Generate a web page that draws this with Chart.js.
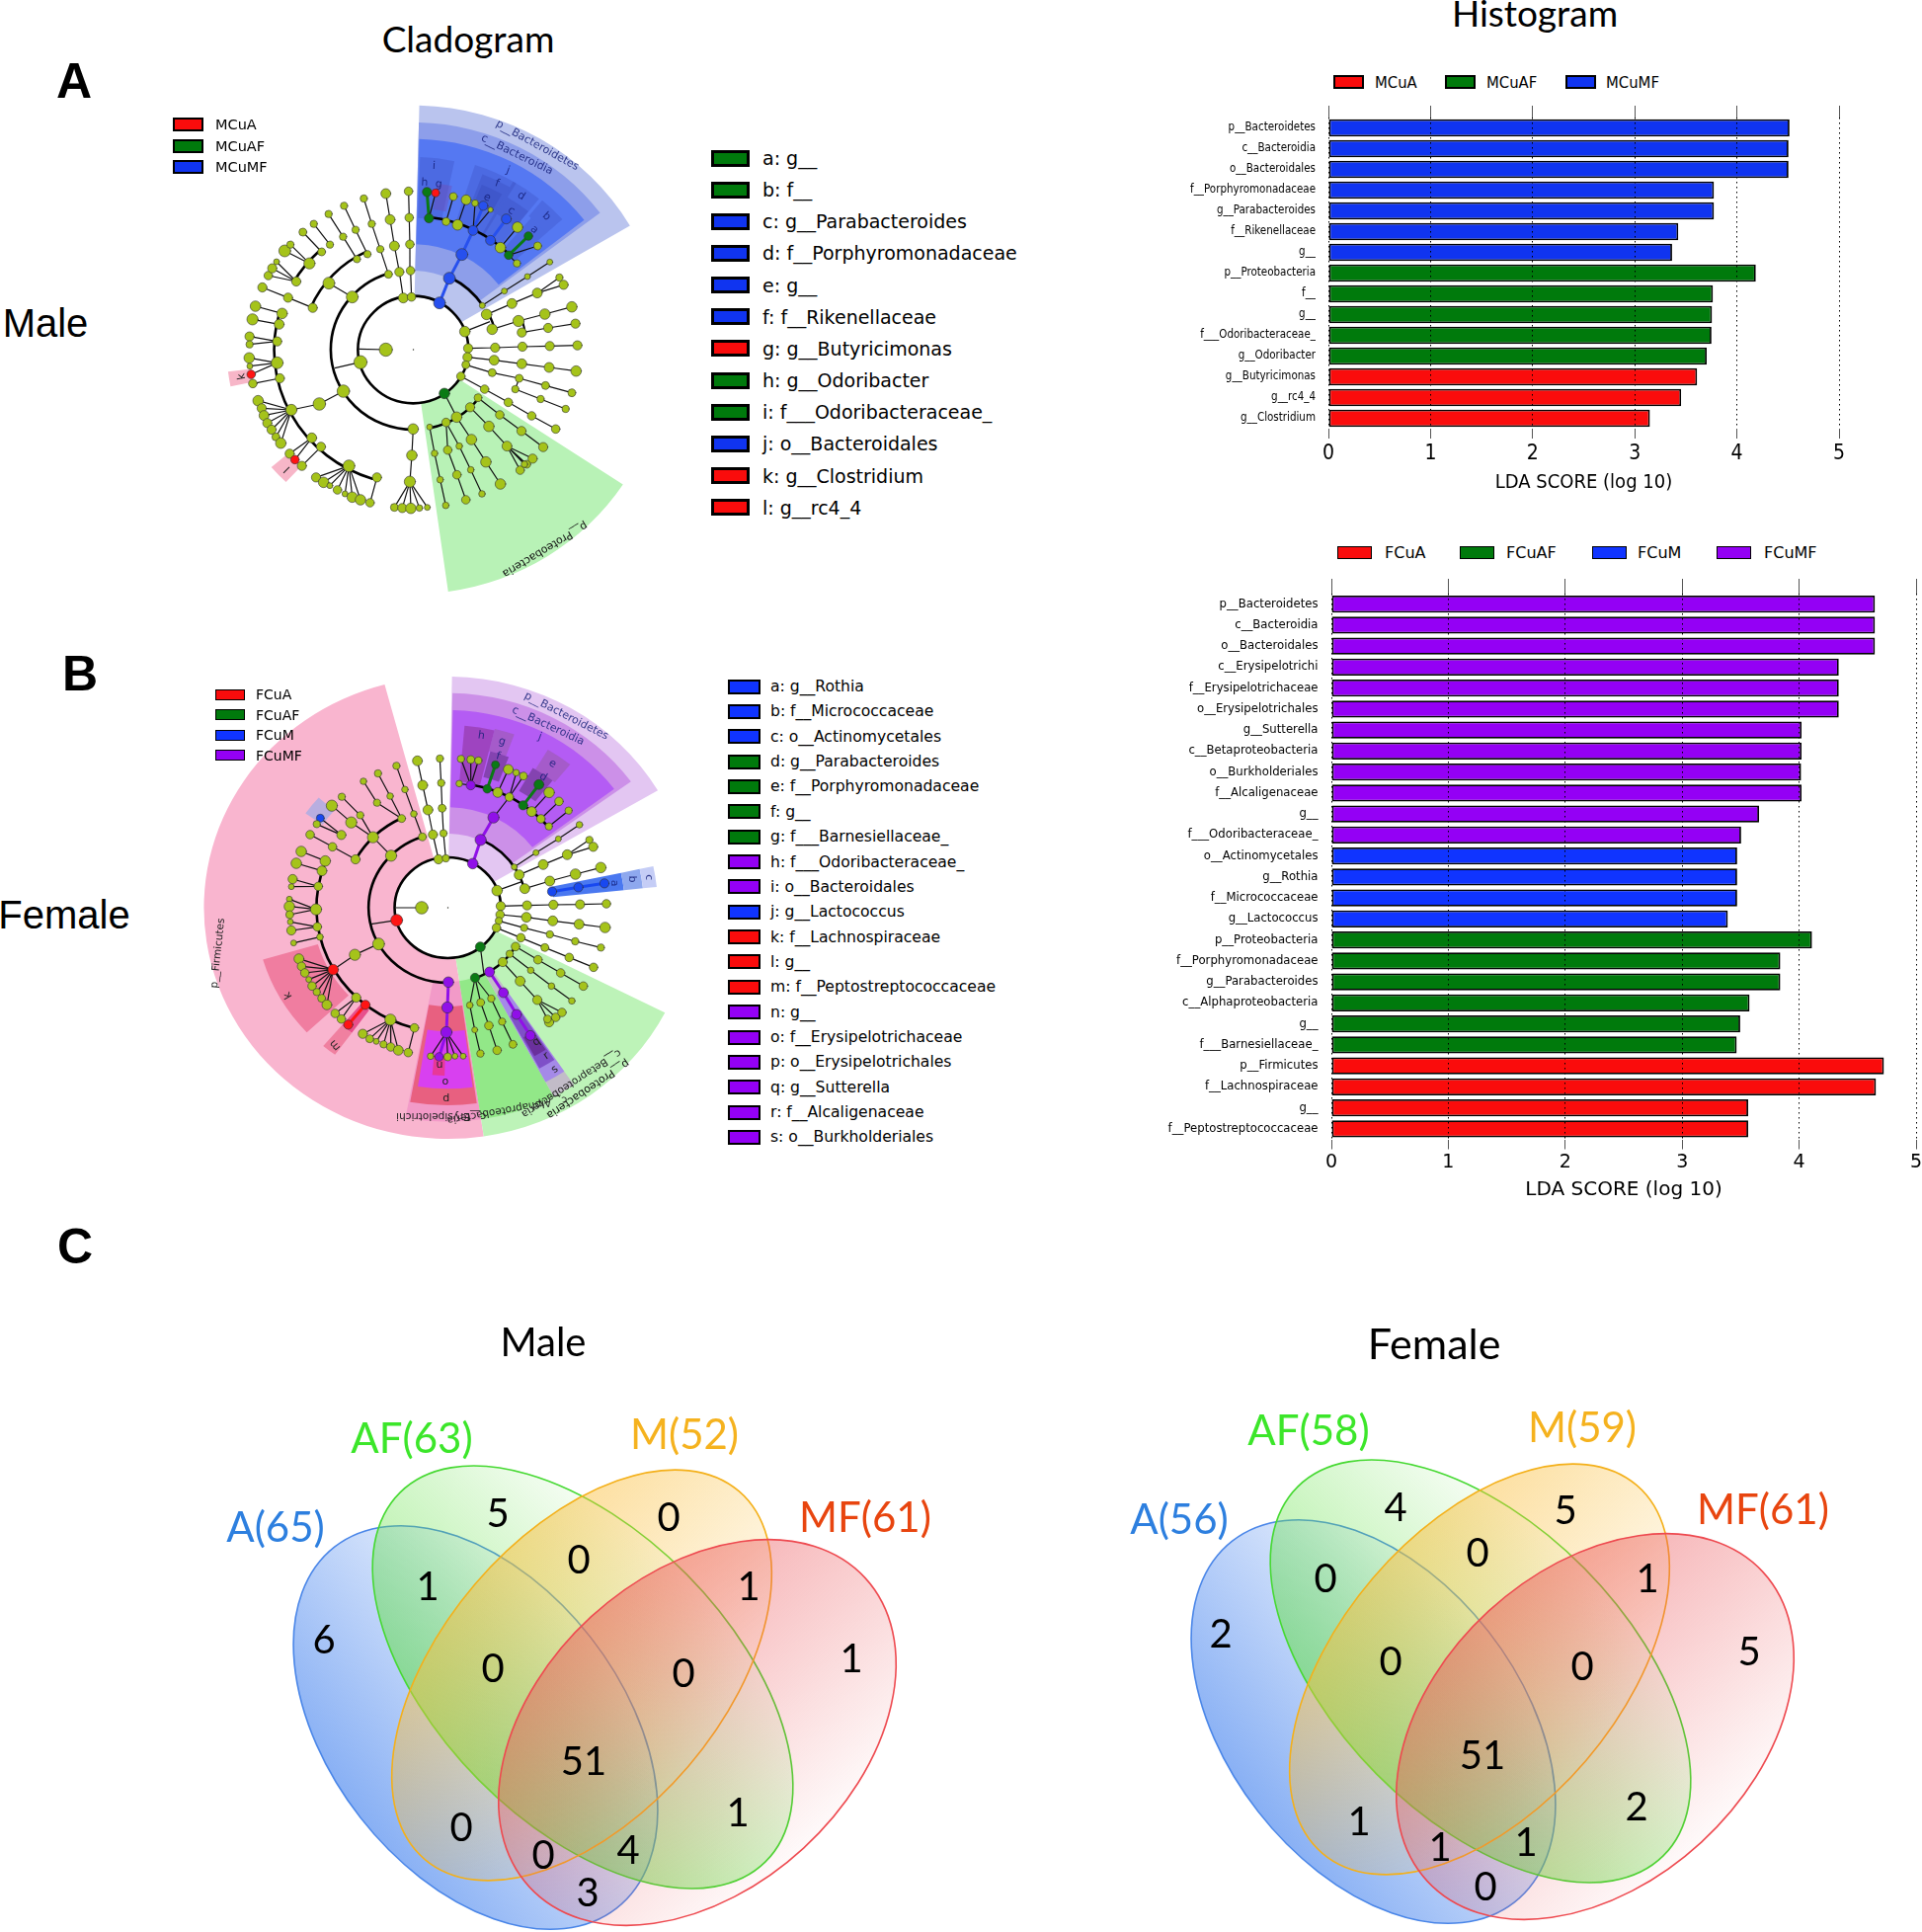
<!DOCTYPE html>
<html><head><meta charset="utf-8">
<script src="https://cdn.jsdelivr.net/npm/chart.js@4"></script>
<style>
html,body{margin:0;padding:0;background:#fff;width:1946px;height:1956px;overflow:hidden}
canvas{position:absolute}
.t{position:absolute;white-space:nowrap;line-height:1;color:#000}
.s{position:absolute;box-sizing:border-box;border:2px solid #000}
</style></head><body>
<canvas id="cm" width="500" height="520" style="left:160px;top:90px"></canvas>
<canvas id="cf" width="500" height="500" style="left:190px;top:670px"></canvas>
<canvas id="hm" width="725" height="407" style="left:1160px;top:100px"></canvas>
<canvas id="hf" width="800" height="645" style="left:1160px;top:580px"></canvas>
<canvas id="vn" width="1946" height="616" style="left:0;top:1340px"></canvas>
<script>
// ---------- histogram data ----------
const maleTaxa = ['p__Bacteroidetes','c__Bacteroidia','o__Bacteroidales','f__Porphyromonadaceae','g__Parabacteroides','f__Rikenellaceae','g__','p__Proteobacteria','f__','g__','f___Odoribacteraceae_','g__Odoribacter','g__Butyricimonas','g__rc4_4','g__Clostridium'];
const maleLDA = [4.515,4.505,4.505,3.775,3.775,3.426,3.365,4.185,3.765,3.756,3.751,3.704,3.61,3.454,3.148];
const maleClass = ['MCuMF','MCuMF','MCuMF','MCuMF','MCuMF','MCuMF','MCuMF','MCuAF','MCuAF','MCuAF','MCuAF','MCuAF','MCuA','MCuA','MCuA'];
const femaleTaxa = ['p__Bacteroidetes','c__Bacteroidia','o__Bacteroidales','c__Erysipelotrichi','f__Erysipelotrichaceae','o__Erysipelotrichales','g__Sutterella','c__Betaproteobacteria','o__Burkholderiales','f__Alcaligenaceae','g__','f___Odoribacteraceae_','o__Actinomycetales','g__Rothia','f__Micrococcaceae','g__Lactococcus','p__Proteobacteria','f__Porphyromonadaceae','g__Parabacteroides','c__Alphaproteobacteria','g__','f___Barnesiellaceae_','p__Firmicutes','f__Lachnospiraceae','g__','f__Peptostreptococcaceae'];
const femaleLDA = [4.648,4.648,4.648,4.339,4.339,4.339,4.021,4.021,4.017,4.021,3.657,3.504,3.47,3.47,3.47,3.39,4.11,3.839,3.839,3.576,3.496,3.466,4.725,4.657,3.564,3.564];
const femaleClass = ['FCuMF','FCuMF','FCuMF','FCuMF','FCuMF','FCuMF','FCuMF','FCuMF','FCuMF','FCuMF','FCuMF','FCuMF','FCuM','FCuM','FCuM','FCuM','FCuAF','FCuAF','FCuAF','FCuAF','FCuAF','FCuAF','FCuA','FCuA','FCuA','FCuA'];
const xTicks = [0,1,2,3,4,5];
const maleGroups = ['MCuA','MCuAF','MCuMF'];
const femaleGroups = ['FCuA','FCuAF','FCuM','FCuMF'];
// ---------- cladogram legends ----------
const maleKey = ['a: g__','b: f__','c: g__Parabacteroides','d: f__Porphyromonadaceae','e: g__','f: f__Rikenellaceae','g: g__Butyricimonas','h: g__Odoribacter','i: f___Odoribacteraceae_','j: o__Bacteroidales','k: g__Clostridium','l: g__rc4_4'];
const maleKeyGroup = ['MCuAF','MCuAF','MCuMF','MCuMF','MCuMF','MCuMF','MCuA','MCuAF','MCuAF','MCuMF','MCuA','MCuA'];
const femaleKey = ['a: g__Rothia','b: f__Micrococcaceae','c: o__Actinomycetales','d: g__Parabacteroides','e: f__Porphyromonadaceae','f: g__','g: f___Barnesiellaceae_','h: f___Odoribacteraceae_','i: o__Bacteroidales','j: g__Lactococcus','k: f__Lachnospiraceae','l: g__','m: f__Peptostreptococcaceae','n: g__','o: f__Erysipelotrichaceae','p: o__Erysipelotrichales','q: g__Sutterella','r: f__Alcaligenaceae','s: o__Burkholderiales'];
const femaleKeyGroup = ['FCuM','FCuM','FCuM','FCuAF','FCuAF','FCuAF','FCuAF','FCuMF','FCuMF','FCuM','FCuA','FCuA','FCuA','FCuMF','FCuMF','FCuMF','FCuMF','FCuMF','FCuMF'];
// ---------- cladogram trees: each branch runs parent -> children, [x, y, abundance, class]
const maleBranches = [
[[855,650,18,'B'],[885,575,18,'B'],[923,503,18,'B'],[957,430,15,'B']],
[[1010,460,15,'B'],[1058,395,15,'B']],[[875,403,12],[897,327,12]],[[910,413,16],[936,337,15]],
[[823,393,14,'G'],[817,313,14,'G']],[[823,393,14,'G'],[843,316,12,'R']],
[[957,430,15,'B'],[963,347,10]],[[957,430,15,'B'],[988,355,14,'B']],[[957,430,15,'B'],[1010,367,8]],
[[1040,482,16],[1092,420,16]],[[1065,505,13,'G'],[1125,447,13,'G']],[[1065,505,13,'G'],[1153,477,12]],[[1065,505,13,'G'],[1090,530,11]],
[[985,658,9],[1052,614,9],[1122,570,9],[1190,526,9]],
[[932,737,16],[1008,707,0]],[[998,685,16],[1075,652,15],[1152,620,15],[1219,573,11]],[[1152,620,15],[1232,595,14]],
[[1015,730,16],[1095,705,17],[1175,684,16],[1257,662,16]],[[1105,740,14],[1185,726,14],[1268,713,14]],
[[775,792,1],[775,792,1]],
[[942,788,14],[1024,786,14],[1107,783,14],[1190,781,14],[1274,779,14]],
[[940,815,14],[1021,824,15],[1105,835,15],[1188,846,15],[1270,857,16]],
[[935,838,12],[1015,862,12],[1097,879,12],[1177,901,12],[1257,923,12]],[[1097,879,12],[1085,912,11],[1162,942,11],[1238,972,11]],
[[920,873,13],[992,912,13],[1064,952,13],[1135,993,13],[1208,1033,13]],
[[870,925,16,'G'],[907,997,16]],
[[972,938,12],[1038,990,13],[1104,1039,14],[1170,1088,14]],
[[948,967,14],[1005,1025,16],[1060,1085,15],[1120,1140,12]],[[1060,1085,15],[1138,1123,14]],[[1060,1085,15],[1100,1158,13]],[[1060,1085,15],[1113,1140,10]],
[[907,997,16],[952,1065,16],[996,1133,16],[1040,1200,16]],
[[875,1013,13],[915,1085,10],[950,1157,10],[984,1230,10]],[[875,1013,13],[880,1097,13],[908,1172,13],[935,1248,13]],
[[825,1027,9],[840,1107,10],[857,1187,10],[874,1265,10]],
[[775,1033,16],[771,1113,16],[765,1193,17]],[[765,1193,17],[718,1271,12]],[[765,1193,17],[742,1273,14]],[[765,1193,17],[768,1274,16]],[[765,1193,17],[794,1273,10]],[[765,1193,17],[818,1271,9]],
[[665,1180,14],[644,1257,13]],
[[580,1145,18],[480,1180,14]],[[580,1145,18],[503,1195,16]],[[580,1145,18],[522,1205,9]],[[580,1145,18],[545,1218,13]],[[580,1145,18],[568,1230,9]],[[580,1145,18],[590,1240,16]],[[580,1145,18],[615,1248,16]],
[[495,1087,14],[437,1145,14]],[[467,1060,15],[400,1108,14]],[[467,1060,15],[416,1126,13,'R']],
[[563,918,19],[490,957,19],[405,975,17]],
[[405,975,17],[304,947,16]],[[405,975,17],[315,970,14]],[[405,975,17],[322,992,15]],[[405,975,17],[332,1015,14]],[[405,975,17],[345,1035,14]],[[405,975,17],[358,1057,12]],[[405,975,17],[373,1076,16]],
[[615,830,20],[537,848,0]],[[692,792,20],[610,790,0]],
[[370,879,14],[288,895,13]],[[362,832,18],[277,817,16]],[[362,832,18],[283,867,13,'R']],[[362,832,18],[279,842,9]],
[[362,767,14],[278,752,14]],[[362,767,14],[278,776,11]],[[368,715,15],[287,700,17]],[[377,682,16],[296,660,16]],
[[470,665,14],[395,634,14],[317,603,14]],
[[420,585,14],[335,567,13]],[[420,585,14],[347,545,14]],[[420,585,14],[360,525,9]],
[[460,530,17],[385,492,18]],[[460,530,17],[402,473,11]],[[519,590,18],[590,632,18]],
[[497,495,12],[440,435,12]],[[522,473,11],[473,410,11]],
[[604,517,11],[562,449,11],[518,380,11]],[[636,502,11],[600,428,11],[565,355,11]],
[[700,563,12],[675,487,11],[649,410,11],[625,333,11]],
[[745,635,15],[733,556,14],[718,477,15],[705,397,15],[692,318,15]],
[[770,632,13],[767,552,13],[765,472,13],[763,391,13],[761,311,13]]
];
const femaleBranches = [
[[866,613,16,'P'],[890,541,17,'P'],[929,473,17,'P'],[977,411,13]],
[[860,375,14,'P'],[830,295,11]],[[860,375,14,'P'],[860,297,12]],[[860,375,14,'P'],[883,300,11]],[[860,375,14,'P'],[825,370,10]],
[[910,386,13,'G'],[935,313,12,'G']],[[942,397,15],[974,327,15]],[[977,411,13],[998,337,10]],[[977,411,13],[1020,347,12]],
[[1019,436,14,'G'],[1067,373,15,'G']],[[1045,455,15],[1098,397,16]],[[1073,477,13],[1128,424,13]],[[1097,500,11],[1157,452,11]],
[[992,623,9],[1058,580,9],[1126,538,9],[1190,495,10]],
[[940,695,16],[1015,668,0]],[[1007,647,15],[1080,616,15],[1153,586,15],[1220,541,11]],[[1153,586,15],[1232,562,14]],
[[1024,689,15],[1100,666,15],[1178,645,16],[1255,625,16]],[[1107,698,14,'M'],[1187,685,14,'M'],[1266,673,14,'M']],
[[790,747,1],[790,747,1]],
[[951,742,14],[1031,740,14],[1111,738,14],[1192,737,14],[1272,735,13]],
[[949,768,13],[1029,776,15],[1109,787,15],[1189,797,15],[1268,807,16]],
[[945,787,11],[1022,808,11],[1100,828,11],[1177,849,11],[1255,868,11]],
[[938,808,13],[1012,838,13],[1085,868,12],[1159,898,13],[1233,928,13]],
[[889,866,15,'G'],[900,950,0]],
[[996,865,13],[1064,905,13],[1133,945,13],[1202,985,13]],
[[978,887,11],[1042,937,10],[1105,985,10],[1167,1030,10]],
[[957,912,14],[1010,970,15],[1062,1027,14],[1098,1095,14]],[[1062,1027,14],[1118,1080,13]],[[1062,1027,14],[1137,1065,13]],[[1062,1027,14],[1093,1085,12]],
[[917,942,15,'P'],[959,1005,15,'P'],[999,1071,15,'P'],[1041,1135,15,'P']],
[[873,960,14,'G'],[857,1043,10],[872,1118,9],[889,1190,11]],[[873,960,14,'G'],[890,1035,12],[915,1105,13],[940,1180,13]],[[873,960,14,'G'],[922,1023,11],[955,1093,11],[988,1162,12]],
[[792,973,16,'P'],[789,1050,17,'P'],[786,1125,17,'P']],
[[786,1125,17,'P'],[738,1198,10]],[[786,1125,17,'P'],[764,1200,13,'P']],[[786,1125,17,'P'],[790,1200,12]],[[786,1125,17,'P'],[812,1198,9]],[[786,1125,17,'P'],[837,1198,9]],
[[689,1112,13],[670,1187,13]],
[[616,1087,17],[532,1130,14]],[[616,1087,17],[553,1145,12]],[[616,1087,17],[573,1153,9]],[[616,1087,17],[595,1162,11]],[[616,1087,17],[617,1170,13]],[[616,1087,17],[640,1180,15]],
[[540,1042,14,'R'],[488,1102,14,'R']],[[512,1020,14],[467,1085,13]],[[512,1020,14],[448,1068,13]],
[[580,857,18],[508,890,17],[442,935,16,'R']],
[[442,935,16,'R'],[338,902,15]],[[442,935,16,'R'],[346,925,13]],[[442,935,16,'R'],[356,945,13]],[[442,935,16,'R'],[368,965,9]],[[442,935,16,'R'],[378,985,13]],[[442,935,16,'R'],[392,1003,11]],[[442,935,16,'R'],[407,1022,12]],[[442,935,16,'R'],[423,1042,15]],
[[635,785,18,'R'],[556,797,0]],[[711,747,19],[633,747,0]],
[[402,836,10],[322,854,9]],[[394,805,13],[315,816,14]],[[394,805,13],[312,790,9]],
[[390,752,17],[309,721,9]],[[390,752,17],[309,743,16]],[[390,752,17],[310,768,12]],
[[397,682,13],[319,660,14]],[[397,682,13],[315,683,9]],[[408,635,15],[330,612,16]],[[418,605,16],[345,576,16]],
[[510,600,14],[440,562,13],[372,525,13]],
[[467,526,14],[403,475,12,'M']],[[467,526,14],[392,493,11]],[[618,589,17],[563,533,17]],
[[563,533,17],[497,488,17],[438,437,17]],[[563,533,17],[524,466,11],[468,410,11]],
[[650,476,12],[615,408,10],[578,339,11]],[[650,476,12],[575,428,11],[534,363,10]],
[[713,532,12],[687,462,10],[660,388,10],[634,316,11]],
[[762,600,14],[745,525,14],[730,450,15],[714,375,15],[698,301,15]],
[[784,597,11],[777,521,11],[773,445,12],[770,368,11],[766,294,11]]
];
// ---------- venn data ----------
const vennSets = ['A(65)','AF(63)','M(52)','MF(61)','A(56)','AF(58)','M(59)','MF(61)'];
const vennCountsMale = [6,5,1,0,0,1,1,0,0,51,1,0,0,4,3];
const vennCountsFemale = [2,4,0,5,0,1,5,0,0,51,2,1,1,1,0];

// ---------- layout & styles ----------
const COL = {MCuA:'#fa0c0c',MCuAF:'#007a0c',MCuMF:'#1034f0',FCuA:'#fa0c0c',FCuAF:'#007a0c',FCuM:'#1034ff',FCuMF:'#9400f5'};
const NODE = {B:'#2750ee',G:'#0a7a14',R:'#ff1414',P:'#9010e8',M:'#1848f0'};
const OLIVE = '#a5c31a';
const NARROW = '"Liberation Sans Narrow","DejaVu Sans Condensed","Liberation Sans"';
function txt(s,x,y,font,color,anchor){
  const e=document.createElement('div');e.className='t';e.textContent=s;
  e.style.cssText+=`left:${x}px;top:${y}px;font:${font};color:${color||'#000'};transform:translate(${anchor==='l'?'0':'-50%'},-50%)`;
  document.body.appendChild(e);
}
function box(x,y,w,h,color,bw){
  const e=document.createElement('div');e.className='s';
  e.style.cssText+=`left:${x}px;top:${y-h/2}px;width:${w}px;height:${h}px;background:${color};border-width:${bw}px`;
  document.body.appendChild(e);
}
// page titles and panel letters
txt('Cladogram',474,38,'37px Lato');txt('Histogram',1554,12,'37px Lato');
txt('A',75,82,'bold 50px "Liberation Sans"');txt('B',81,682,'bold 50px "Liberation Sans"');txt('C',76,1262,'bold 50px "Liberation Sans"');
txt('Male',46,327,'40px "Liberation Sans"');txt('Female',65,926,'40px "Liberation Sans"');
// keys
maleKey.forEach((s,i)=>{const y=160+i*32.15;box(720,y,39,17,COL[maleKeyGroup[i]],3);txt(s,772,y,'19px "DejaVu Sans"','#000','l');});
femaleKey.forEach((s,i)=>{const y=695+i*25.36;box(737,y,33,15,COL[femaleKeyGroup[i]],2);txt(s,780,y,'15.6px "DejaVu Sans"','#000','l');});
maleGroups.forEach((g,i)=>{const y=126+i*21.5;box(175,y,31,14,COL[g],2);txt(g,218,y,'14.5px "DejaVu Sans"','#000','l');});
femaleGroups.forEach((g,i)=>{const y=703+i*20.6;box(218,y,30,11,COL[g],1.5);txt(g,259,y,'14px "DejaVu Sans"','#000','l');});
[[1350,1392],[1463,1505],[1585,1626]].forEach((p,i)=>{box(p[0],83,31,14,COL[maleGroups[i]],2);txt(maleGroups[i],p[1],83,'16.5px '+NARROW,'#000','l');});
[[1354,1402],[1478,1525],[1612,1658],[1738,1786]].forEach((p,i)=>{box(p[0],559,35,13,COL[femaleGroups[i]],1.5);txt(femaleGroups[i],p[1],559,'16px "DejaVu Sans"','#000','l');});

// ---------- histograms ----------
function hist(id,taxa,vals,cls,groups,o){
  new Chart(document.getElementById(id),{type:'bar',
    data:{labels:taxa,datasets:groups.map(g=>({label:g,data:vals.map((v,i)=>cls[i]===g?v:null),backgroundColor:COL[g],borderColor:'#000',borderWidth:1.8,borderSkipped:false,barPercentage:o.bar,categoryPercentage:1}))},
    options:{indexAxis:'y',responsive:false,animation:false,devicePixelRatio:1,
      layout:{padding:{right:o.right,left:0,top:0,bottom:0}},
      plugins:{legend:{display:false},tooltip:{enabled:false}},
      scales:{
        y:{stacked:true,grid:{display:false},border:{display:false},afterFit:s=>{s.width=o.yw},ticks:{autoSkip:false,color:'#000',font:o.yFont,padding:o.yPad}},
        x:{stacked:true,min:0,max:5,afterBuildTicks:s=>{s.ticks=xTicks.map(v=>({value:v}))},afterFit:s=>{s.height=o.xh},
           border:{display:false,dash:[1.5,3.5]},grid:{color:'#000',z:1,tickLength:10,tickBorderDash:[],tickColor:'#555'},
           ticks:{color:'#000',font:o.xFont,padding:o.xPad,maxRotation:0},
           title:{display:true,text:'LDA SCORE (log 10)',color:'#000',font:o.tFont,padding:{top:0,bottom:o.tPad}}},
        x2:{position:'top',min:0,max:5,afterBuildTicks:s=>{s.ticks=xTicks.map(v=>({value:v}))},afterFit:s=>{s.height=o.topH},
           border:{display:false},grid:{drawOnChartArea:false,tickLength:o.topTick,tickColor:'#555'},ticks:{display:false}}
      }}});
}
hist('hm',maleTaxa,maleLDA,maleClass,maleGroups,{bar:.83,right:23,yw:185,xh:73,topH:19,topTick:12,yPad:5,xPad:3,tPad:6,
  yFont:{family:NARROW,size:11.5},xFont:{family:NARROW,size:21},tFont:{family:NARROW,size:20}});
hist('hf',femaleTaxa,femaleLDA,femaleClass,femaleGroups,{bar:.82,right:20,yw:188,xh:71.5,topH:21,topTick:15,yPad:5.5,xPad:2,tPad:8,
  yFont:{family:'"DejaVu Sans"',size:11.7},xFont:{family:'"DejaVu Sans"',size:19},tFont:{family:'"DejaVu Sans"',size:20}});

// ---------- cladograms (bubble nodes, line edges, sector / arc plugin) ----------
function clado(id,W,H,branches,o){
  const seen=new Map(),edges={K:[],B:[],G:[],R:[],P:[],M:[]};
  branches.forEach(b=>{b.forEach((n,i)=>{
    const k=n[0]+','+n[1];if(n[2]>0&&!seen.has(k))seen.set(k,{x:n[0],y:n[1],r:n[2]/3,c:n[3]});
    if(i){const e=edges[n[3]&&n[3]===b[i-1][3]?n[3]:'K'];e.push({x:b[i-1][0],y:b[i-1][1]},{x:n[0],y:n[1]},{x:NaN,y:NaN});}
  });});
  const lineSets=Object.keys(edges).map(k=>({type:'line',data:edges[k],borderColor:k==='K'?'#111':NODE[k],borderWidth:k==='K'?1.2:3,pointRadius:0,spanGaps:false,order:2,parsing:true}));
  const plugin={id:'clado'+id,beforeDatasetsDraw(ch){
    const c=ch.ctx,X=ch.scales.x,Y=ch.scales.y,sx=X.getPixelForValue(1)-X.getPixelForValue(0),sy=Y.getPixelForValue(1)-Y.getPixelForValue(0);
    const px=X.getPixelForValue(o.cx),py=Y.getPixelForValue(o.cy),rad=d=>d*Math.PI/180;
    o.sectors.forEach(s=>{c.save();c.translate(px,py);c.scale(sx*o.k,sy);c.beginPath();c.arc(0,0,s[1],rad(s[2]),rad(s[3]));c.arc(0,0,s[0],rad(s[3]),rad(s[2]),true);c.closePath();c.restore();c.fillStyle=s[4];c.fill();});
    c.textAlign='center';c.textBaseline='middle';
    o.labels.forEach(l=>{c.save();c.translate(X.getPixelForValue(l[1]),Y.getPixelForValue(l[2]));c.rotate(rad(l[3]));c.font=(l[4]||11)+'px "DejaVu Sans"';c.fillStyle=l[5]||'rgba(20,30,120,.85)';c.fillText(l[0],0,0);c.restore();});
    c.strokeStyle='#000';c.lineCap='round';
    o.arcs.forEach(a=>{c.save();c.translate(px,py);c.scale(sx*o.k,sy);c.beginPath();c.arc(0,0,a[0],rad(a[1]),rad(a[2]));c.restore();c.lineWidth=a[3];c.stroke();});
  }};
  new Chart(document.getElementById(id),{type:'bubble',plugins:[plugin],
    data:{datasets:[{data:[...seen.values()],backgroundColor:ctx=>{const r=ctx.raw;return r&&r.c?NODE[r.c]:OLIVE},borderColor:'#333',borderWidth:.6,order:1},...lineSets]},
    options:{responsive:false,animation:false,devicePixelRatio:1,layout:{padding:0,autoPadding:false},
      plugins:{legend:{display:false},tooltip:{enabled:false}},
      scales:{x:{type:'linear',min:0,max:W,display:false},y:{type:'linear',min:0,max:H,reverse:true,display:false}}}});
}
const NAVY='rgba(45,60,170,.22)';
clado('cm',1500,1560,maleBranches,{cx:775,cy:792,k:1.03,
  sectors:[
   [160,742,-88.6,-30.5,'#bac4ee'],[240,690,-88.6,-37,'#8d9eea'],[320,640,-88.4,-38,'#5578f2'],
   [400,585,-88,-78,NAVY],[430,510,-82,-77,'rgba(120,70,170,.35)'],[400,590,-72,-59,NAVY],[480,570,-69,-60,NAVY],[480,540,-68,-61,NAVY],[400,590,-60,-51,NAVY],[480,540,-59,-51,NAVY],[530,592,-50,-42,NAVY],[400,530,-49,-42,NAVY],
   [160,742,33.5,82,'#b8f2b6'],[480,550,168.3,173,'#f7b6c8'],[480,550,133,139.5,'#f7b6c8']],
  labels:[['p__Bacteroidetes',1152,172,29],['c__Bacteroidia',1090,200,26],['p__Proteobacteria',1175,1398,149,11,'#111'],
   ['i',838,235,3],['h',810,285,3],['g',853,290,5],['j',1063,248,20],['f',1030,287,20],['e',1000,330,22],['d',1103,325,32],['c',1073,370,32],['b',1180,388,42],['a',1143,428,42],['k',255,873,-100,11,'#222'],['l',393,1155,-135,11,'#222']],
  arcs:[[163,0,360,2.6],[243,90,252,2.6],[328,203,245,2.6],[410,107,196,2.6],[408,210,227,2.6],[245,-63,-33,2.6],[405,-83,-45,2.6],[248,-25,-14,2.4],[334,-15,-9,2],[243,37,78,2.6]]});
clado('cf',1500,1500,femaleBranches,{cx:790,cy:747,k:1.055,
  sectors:[
   [152,702,81.5,255,'#f9b5cf'],[152,702,27,81.5,'#bdf3b8'],[152,702,-89,-30.5,'#e3c6f2'],
   [225,652,-88.8,-36,'#cc90e8'],[305,600,-88.6,-37,'#b45cf4'],
   [385,555,-85,-76,'rgba(140,50,150,.55)'],[490,560,-76,-70,'rgba(150,90,160,.5)'],[410,490,-75.5,-69,'rgba(100,50,130,.6)'],[490,560,-59,-51,'rgba(150,90,160,.5)'],[410,490,-60,-52,'rgba(100,50,130,.6)'],
   [440,500,215,222,'#b8aee0'],
   [305,510,-12,-6,'#4a78f0'],[510,565,-12,-6,'#8ea8ee'],[565,605,-12,-6,'#c5cdf6'],
   [390,555,137,163.5,'#f07da0'],[385,470,126,130.5,'#e8508c'],[470,552,126,130.5,'#f080a0'],
   [225,650,81.5,100.8,'#f29ac8'],[300,600,82,100.4,'#e86080'],[375,550,82.5,99,'#d840f0'],[450,510,91,95,'#e83898'],
   [225,650,62,81.5,'#92e888'],[225,650,56,62,'#c2bcc8'],[300,600,56,62,'#a58ae8'],[375,555,56.4,61.6,'#7f50c8'],[450,515,56.8,61,'#6a309c']],
  labels:[['p__Bacteroidetes',1150,165,27],['c__Bacteroidia',1095,195,25],['p__Proteobacteria',1215,1297,146,11,'#111'],['c__Betaproteobacteria',1165,1280,147,10.5,'#222'],['c__Alphaproteobacteria',970,1360,170,10.5,'#222'],['c__Erysipelotrichi',770,1378,180,10.5,'#222'],['p__Firmicutes',92,885,-84,10.5,'#222'],
   ['h',892,225,8],['g',955,243,15],['f',943,287,15],['j',1070,228,20],['e',1108,310,30],['d',1080,350,30],['a',1295,672,90],['b',1350,660,90],['c',1400,655,90],['k',305,1013,-120,11,'#222'],['m',448,1165,-130,11,'#222'],['o',783,1275,180,11,'#222'],['p',785,1325,180,11,'#222'],['n',765,1225,180,11,'#222'],['q',1060,1155,-35,11,'#222'],['r',1090,1197,-35,11,'#222'],['s',1115,1238,-35,11,'#222']],
  arcs:[[153,0,360,2.6],[228,90,251,2.6],[303,209,244,2.6],[378,105,202,2.6],[228,-64,-30,2.6],[380,-79,-40,2.6],[228,-26,-14.6,2.4],[228,31,70,2.6]]});

// ---------- venn ----------
// [centre x, centre y, semi-major, semi-minor, tilt, rgb, outline, strong end alpha, side]
const ellM=[[481.5,1749,232,148,52,'90,145,240','#4a86e8',.72,1],[590,1698,263,148,45.3,'100,225,70','#46d932',.58,1],[589,1696,245,142,-49.5,'250,190,60','#f4b01a',.52,-1],[706,1754,231,159,-42.6,'235,85,90','#ee4a50',.5,-1]];
const ellF=ellM.map(e=>[e[0]+909,e[1]-6,...e.slice(2)]);
const vennPts=(vals,xs,ys)=>vals.map((v,i)=>({x:xs[i],y:ys[i],t:String(v)}));
const mx=[328,504,433,677,586,758,862,499,692,591,747,467,550,636,595],my=[1661,1533,1607,1537,1580,1607,1680,1690,1695,1784,1836,1851,1879,1874,1917];
const fx=[1236,1413,1342,1585,1496,1668,1771,1408,1602,1501,1657,1376,1458,1545,1504],fy=[1655,1527,1599,1530,1573,1599,1673,1683,1688,1778,1830,1845,1871,1866,1911];
const setX=[279,417,693,876,1194,1325,1602,1785],setY=[1547,1457,1453,1537,1539,1449,1446,1529],setC=['#2d7fdf','#3ce62a','#f5b21e','#e8450f'];
const vennPlugin={id:'venn',beforeDatasetsDraw(ch){
  const c=ch.ctx,X=ch.scales.x,Y=ch.scales.y;
  [...ellM,...ellF].forEach(e=>{
    const p=X.getPixelForValue(e[0]),q=Y.getPixelForValue(e[1]),t=e[4]*Math.PI/180,nx=-Math.sin(t)*e[3]*e[8],ny=Math.cos(t)*e[3]*e[8];
    const g=c.createLinearGradient(p-nx,q-ny,p+nx,q+ny);g.addColorStop(0,`rgba(${e[5]},.03)`);g.addColorStop(1,`rgba(${e[5]},${e[7]})`);
    c.beginPath();c.ellipse(p,q,e[2],e[3],t,0,Math.PI*2);c.fillStyle=g;c.fill();c.lineWidth=1.6;c.strokeStyle=e[6];c.stroke();
  });
},afterDatasetsDraw(ch){
  const c=ch.ctx,X=ch.scales.x,Y=ch.scales.y;c.textAlign='center';c.textBaseline='middle';
  c.font='40px Lato';c.fillStyle='#000';
  ch.data.datasets.forEach(d=>d.data.forEach(p=>c.fillText(p.t,X.getPixelForValue(p.x),Y.getPixelForValue(p.y))));
  vennSets.forEach((s,i)=>{c.fillStyle=setC[i%4];c.font='42px Lato';c.fillText(s,X.getPixelForValue(setX[i]),Y.getPixelForValue(setY[i]));});
  c.fillStyle='#000';c.font='40px Lato';c.fillText('Male',X.getPixelForValue(550),Y.getPixelForValue(1360));c.font='43px Lato';c.fillText('Female',X.getPixelForValue(1452),Y.getPixelForValue(1362));
}};
new Chart(document.getElementById('vn'),{type:'scatter',plugins:[vennPlugin],
  data:{datasets:[{data:vennPts(vennCountsMale,mx,my),pointRadius:0},{data:vennPts(vennCountsFemale,fx,fy),pointRadius:0}]},
  options:{responsive:false,animation:false,devicePixelRatio:1,layout:{padding:0,autoPadding:false},plugins:{legend:{display:false},tooltip:{enabled:false}},
    scales:{x:{type:'linear',min:0,max:1946,display:false},y:{type:'linear',min:1340,max:1956,reverse:true,display:false}}}});
</script>
</body></html>
